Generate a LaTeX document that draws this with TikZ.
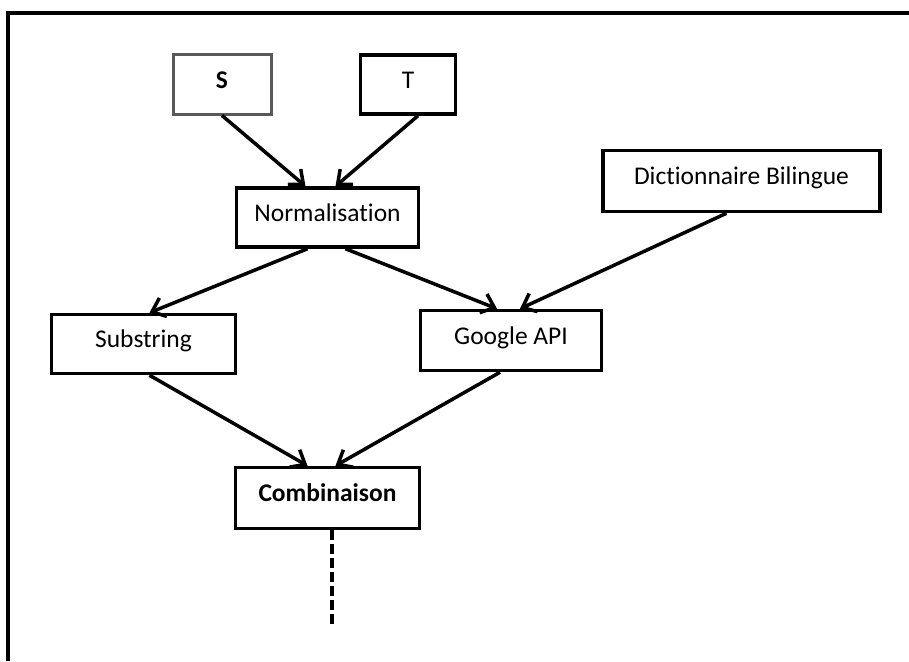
\documentclass[tikz,border=0pt]{standalone}
\usepackage{fontspec}
\setmainfont{Carlito}[Ligatures=NoCommon]
\usetikzlibrary{arrows.meta}

\begin{document}
\begin{tikzpicture}[x=1pt,y=-1pt,->,>={Straight Barb[length=12pt,width=20pt]},line width=3.5pt,
                    box/.style={draw,rectangle,line width=3.5pt,minimum height=59pt,text height=17pt,text depth=10pt,
                                font=\fontsize{25.5}{30}\selectfont},
                    thinbox/.style={box,draw=black!65,line width=3pt}]

	\useasboundingbox (0,0) rectangle (909,661);
	\draw[-] (8,661) -- (8,13) -- (909,13);

  	\node[thinbox,minimum width=98pt]  (s)      at (222,84.5)   {\textbf{S}};
	\node[box,minimum width=95pt]      (t)      at (408,84.5)   {T};
	\node[box,minimum width=182pt]     (norm)   at (327.5,217.5) {Normalisation};
	\node[box,minimum width=277pt,minimum height=61pt] (dict) at (741.5,181) {Dictionnaire Bilingue};
	\node[box,minimum width=181pt,minimum height=60pt] (google) at (511,340.5) {Google API};
	\node[box,minimum width=184pt]     (sub)    at (143.5,344)  {Substring};
	\node[box,minimum width=184pt,minimum height=61pt] (comb) at (327.5,498) {\textbf{Combinaison}};
	\coordinate (suite) at (332,627);

  	\path (s.south)                 edge ([xshift=-22pt]norm.north)
	      ([xshift=10pt]t.south)     edge ([xshift=8pt]norm.north)
	      ([xshift=-20pt]norm.south) edge ([xshift=6pt]sub.north)
	      ([xshift=18pt]norm.south)  edge ([xshift=-14pt]google.north)
	      ([xshift=-15pt]dict.south) edge ([xshift=9pt]google.north)
	      ([xshift=6pt]sub.south)    edge ([xshift=-20pt]comb.north)
	      ([xshift=-11pt]google.south) edge ([xshift=8pt]comb.north);
	\draw[-,dash pattern=on 10pt off 4pt] ([xshift=4.5pt]comb.south) -- (suite);

\end{tikzpicture}
\end{document}
